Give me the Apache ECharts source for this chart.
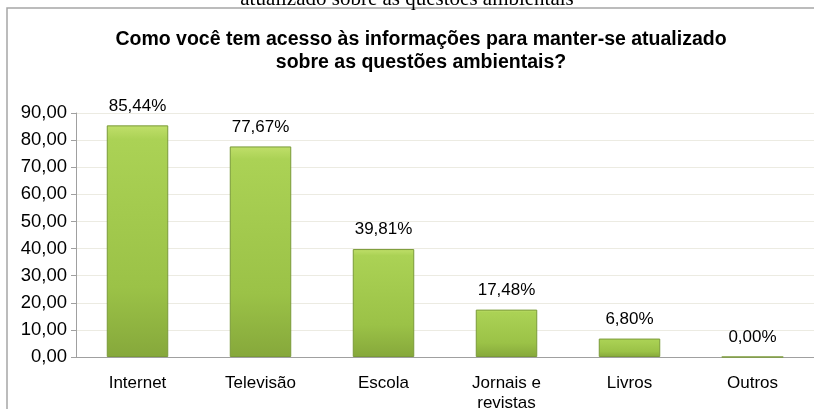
<!DOCTYPE html>
<html>
<head>
<meta charset="utf-8">
<script src="https://cdn.jsdelivr.net/npm/echarts@6/dist/echarts.min.js"></script>
<style>
  html, body { margin: 0; padding: 0; background: #fff; }
  #chart { width: 814px; height: 409px; }
</style>
</head>
<body>
<div id="chart"></div>
<script>
// data
var categories = ['Internet', 'Televisão', 'Escola', 'Jornais e\nrevistas', 'Livros', 'Outros'];
var values = [85.44, 77.67, 39.81, 17.48, 6.80, 0.00];
var yTicks = { min: 0, max: 90, interval: 10 };

function comma(v, d) {
  return v.toFixed(d).replace('.', ',');
}

var myChart = echarts.init(document.getElementById('chart'));

var option = {
  animation: false,
  backgroundColor: '#fff',
  textStyle: { fontFamily: 'Liberation Sans, Arial, sans-serif' },
  title: {
    text: 'Como você tem acesso às informações para manter-se atualizado\nsobre as questões ambientais?',
    left: 416,
    textAlign: 'center',
    top: 23,
    textStyle: {
      fontFamily: 'Liberation Sans, Arial, sans-serif',
      fontSize: 19.5,
      fontWeight: 'bold',
      color: '#000',
      lineHeight: 23
    }
  },
  graphic: [
    {
      type: 'rect',
      shape: { x: 7, y: 8, width: 830, height: 430 },
      style: { fill: 'none', stroke: '#a6a6a6', lineWidth: 1.5 },
      z: 0
    },
    {
      type: 'text',
      left: 'center',
      top: -11,
      style: {
        text: 'atualizado sobre as questões ambientais',
        font: '21px "Liberation Serif", "Times New Roman", serif',
        fill: '#000'
      }
    }
  ],
  grid: { left: 76, right: 0, top: 113, bottom: 52, containLabel: false, outerBoundsMode: 'none' },
  xAxis: {
    type: 'category',
    data: categories,
    axisLine: { lineStyle: { color: '#a0a0a0', width: 1 } },
    axisTick: { show: false },
    axisLabel: { color: '#000', fontSize: 17, margin: 16, lineHeight: 20 }
  },
  yAxis: {
    type: 'value',
    min: yTicks.min,
    max: yTicks.max,
    interval: yTicks.interval,
    axisLine: { show: true, lineStyle: { color: '#a0a0a0' } },
    axisTick: { show: true, inside: false, length: 5, lineStyle: { color: '#a0a0a0' } },
    axisLabel: {
      color: '#000',
      fontSize: 18.5,
      margin: 9,
      formatter: function (v) { return comma(v, 2); }
    },
    splitLine: { lineStyle: { color: '#ecebe2' } }
  },
  series: [{
    type: 'bar',
    data: values,
    barWidth: '50%',
    itemStyle: {
      color: new echarts.graphic.LinearGradient(0, 0, 0, 1, [
        { offset: 0, color: '#c0df6a' },
        { offset: 0.06, color: '#abd255' },
        { offset: 0.7, color: '#9bc247' },
        { offset: 1, color: '#86a83b' }
      ]),
      borderColor: '#7a9a38',
      borderWidth: 1
    },
    label: {
      show: true,
      position: 'top',
      distance: 11,
      color: '#000',
      fontSize: 17,
      formatter: function (p) { return comma(p.value, 2) + '%'; }
    }
  }]
};

myChart.setOption(option);
</script>
</body>
</html>
